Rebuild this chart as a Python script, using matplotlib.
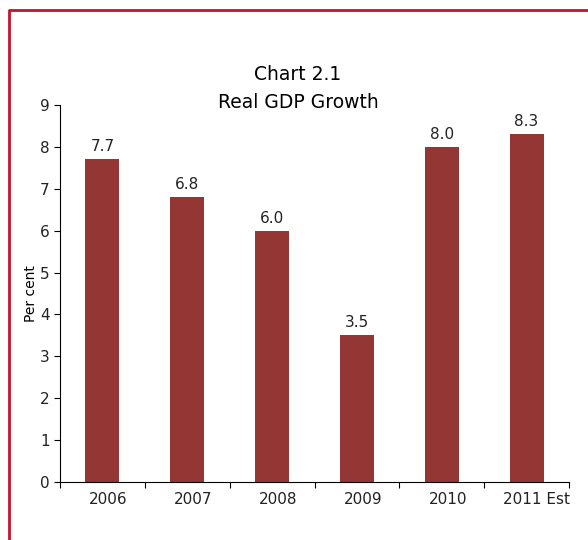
import matplotlib
matplotlib.use('Agg')
import matplotlib.pyplot as plt
import matplotlib.transforms as mtransforms
from matplotlib.lines import Line2D

# Real GDP growth, per cent
years = ['2006', '2007', '2008', '2009', '2010', '2011 Est']
growth = [7.7, 6.8, 6.0, 3.5, 8.0, 8.3]

bar_color = '#943634'
border_color = '#C8102E'

plt.rcParams['font.family'] = ['DejaVu Sans']

fig = plt.figure(figsize=(5.88, 5.4), dpi=100)
ax = fig.add_axes([60 / 588, 58 / 540, 509 / 588, 377 / 540])

x = range(len(years))
bars = ax.bar(x, growth, width=0.4, color=bar_color)
for xi, v in zip(x, growth):
    ax.text(xi, v + 0.12, '%.1f' % v, ha='center', va='bottom', fontsize=11, color='#222222')

ax.set_xlim(-0.5, len(years) - 0.5)
ax.set_ylim(0, 9)
ax.set_yticks(range(0, 10))
ax.set_xticks(x)
ax.set_xticklabels(years, fontsize=11, color='#222222')
ax.tick_params(axis='x', length=0, pad=7)
ax.tick_params(axis='y', labelsize=11, labelcolor='#222222', length=4, width=0.8)
# tick marks between categories on the x axis
ax.set_xticks([i - 0.5 for i in range(len(years) + 1)], minor=True)
ax.tick_params(axis='x', which='minor', length=4, width=0.8)

# nudge the category labels a little to the right
for lbl in ax.get_xticklabels():
    shift = 10 if 'Est' in lbl.get_text() else 6
    lbl.set_transform(lbl.get_transform() + mtransforms.ScaledTranslation(shift / 100, 0, fig.dpi_scale_trans))

for side in ['top', 'right']:
    ax.spines[side].set_visible(False)
ax.spines['left'].set_linewidth(0.8)
ax.spines['bottom'].set_linewidth(0.8)

ax.set_ylabel('Per cent', fontsize=10, labelpad=1)

fig.text(298 / 588, 1 - 75 / 540, 'Chart 2.1', ha='center', va='center', fontsize=13.5)
fig.text(298 / 588, 1 - 102 / 540, 'Real GDP Growth', ha='center', va='center', fontsize=13.5)

# frame around the chart
fig.add_artist(Line2D([8.5 / 588, 8.5 / 588, 1.0], [0, 1 - 9.5 / 540, 1 - 9.5 / 540],
                      transform=fig.transFigure, color=border_color, linewidth=2))

fig.savefig('out.png', dpi=100)
